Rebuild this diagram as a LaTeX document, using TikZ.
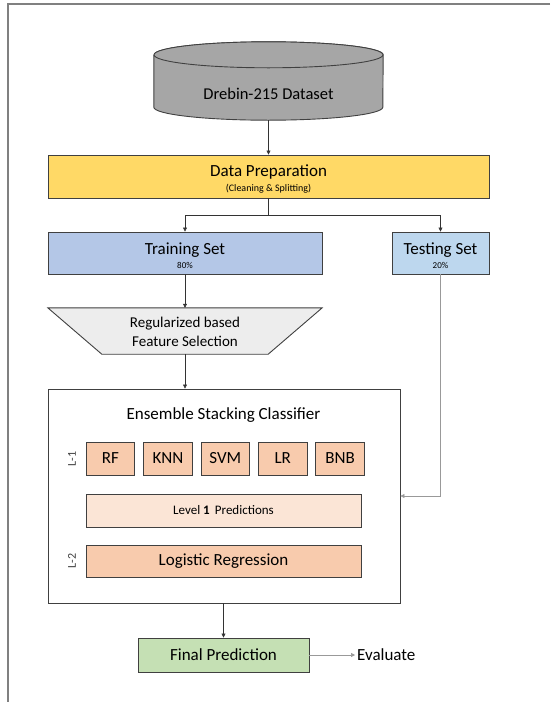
\documentclass[tikz,border=0pt]{standalone}
\usepackage{fontspec}
\setmainfont{Carlito}
\usetikzlibrary{arrows.meta}
\usetikzlibrary{positioning}

\definecolor{dbgray}{HTML}{A6A6A6}
\definecolor{prepyellow}{HTML}{FFD966}
\definecolor{trainblue}{HTML}{B4C7E7}
\definecolor{testblue}{HTML}{BDD7EE}
\definecolor{fsgray}{HTML}{EDEDED}
\definecolor{modelpeach}{HTML}{F8CBAD}
\definecolor{predpeach}{HTML}{FBE5D6}
\definecolor{finalgreen}{HTML}{C5E0B4}
\definecolor{edgegray}{HTML}{404040}

\tikzset{
  box/.style={draw=edgegray, line width=0.9pt, rectangle, inner sep=0pt, align=center},
  big/.style={font=\fontsize{17}{19}\selectfont},
  model/.style={box, big, fill=modelpeach, minimum width=48.5pt, minimum height=33pt},
  level/.style={font=\fontsize{12}{13}\selectfont, rotate=90, text=edgegray},
  flow/.style={-{Triangle[length=4pt,width=4pt]}, draw=black!80, line width=0.6pt},
}

\begin{document}
\begin{tikzpicture}[x=1pt, y=-1pt]
    \useasboundingbox (0,0) rectangle (550,702);
    % outer frame (only top and left visible)
    \draw[gray, line width=1.2pt] (550,4) -- (8,4) -- (8,702);

    % dataset (cylinder drawn round the node)
    \node[minimum width=229pt, minimum height=78pt, inner sep=0pt] (data) at (268.5,81) {};
    \filldraw[fill=dbgray, draw=edgegray, line width=0.9pt]
      ([yshift=-13pt]data.north west) -- ([yshift=13pt]data.south west)
      arc[start angle=180, end angle=360, x radius=114.5pt, y radius=13pt]
      -- ([yshift=-13pt]data.north east)
      arc[start angle=0, end angle=180, x radius=114.5pt, y radius=13pt];
    \draw[edgegray, line width=0.9pt, fill=dbgray] ([yshift=-13pt]data.north) ellipse[x radius=114.5pt, y radius=13pt];
    \node[font=\fontsize{16.5}{18}\selectfont] (datatxt) at (268.5,94) {Drebin-215 Dataset};

    % preparation and split
    \node[box, fill=prepyellow, minimum width=441pt, minimum height=43pt] (prep) at (268.5,176.5)
        {{\fontsize{17}{18}\selectfont\rule{0pt}{17pt}Data Preparation}\\[3pt]{\fontsize{10}{11}\selectfont (Cleaning \& Splitting)}};
    \node[box, fill=trainblue, minimum width=274pt, minimum height=42pt] (train) at (185,253)
        {{\fontsize{17}{18}\selectfont\rule{0pt}{18pt}Training Set}\\[2pt]{\fontsize{9}{10}\selectfont 80\%}};
    \node[box, fill=testblue, minimum width=97pt, minimum height=42pt] (test) at (440.5,253)
        {{\fontsize{17}{18}\selectfont\rule{0pt}{18pt}Testing Set}\\[2pt]{\fontsize{9}{10}\selectfont 20\%}};
    \coordinate (split) at (268.5,215);

    % feature selection (trapezium drawn round the node)
    \node[minimum width=274pt, minimum height=46pt, inner sep=0pt] (fs) at (185,331) {};
    \filldraw[fill=fsgray, draw=edgegray, line width=0.9pt]
      (fs.north west) -- (fs.north east) -- ([xshift=-54pt]fs.south east)
      -- ([xshift=54pt]fs.south west) -- cycle;
    \node[align=center, font=\fontsize{15}{19}\selectfont] (fstxt) at (185,332) {Regularized based\\Feature Selection};

    % ensemble stacking classifier
    \node[box, fill=white, minimum width=352pt, minimum height=214pt] (ens) at (224,496) {};
    \node[big] (enstitle) at (223.5,415) {Ensemble Stacking Classifier};

    \node[model] (rf) at (110.5,458.5) {RF};
    \node[model] (knn) [right=8pt of rf] {KNN};
    \node[model] (svm) [right=8pt of knn] {SVM};
    \node[model] (lr) [right=8pt of svm] {LR};
    \node[model] (bnb) [right=8pt of lr] {BNB};
    \node[level] (l1) at (72,459) {L-1};

    \node[box, fill=predpeach, minimum width=275pt, minimum height=33pt, font=\fontsize{13}{14}\selectfont]
        (pred) at (223.5,510.5) {Level \textbf{1}\, Predictions};
    \node[box, big, fill=modelpeach, minimum width=275pt, minimum height=32pt]
        (meta) at (223.5,561) {Logistic Regression};
    \node[level] (l2) at (72,561) {L-2};

    % output
    \node[box, big, fill=finalgreen, minimum width=171pt, minimum height=34pt]
        (final) at (223.5,655) {Final Prediction};
    \node[big, anchor=west, inner sep=2pt] (eval) at (355,655) {Evaluate};

    \path
    (data.south) edge[flow] (prep.north)
    (train.south) edge[flow] (fs.north)
    (ens.south -| final.north) edge[flow] (final.north);
    \draw[flow] (fs.south) -- (fs.south |- ens.north);
    \draw[flow] (prep.south) -- (split) -| (train.north);
    \draw[flow] (split) -| (test.north);
    \draw[flow, draw=black!40] (test.south) |- (ens.east);
    \draw[flow, draw=black!40] (final.east) -- (eval.west);
\end{tikzpicture}
\end{document}
